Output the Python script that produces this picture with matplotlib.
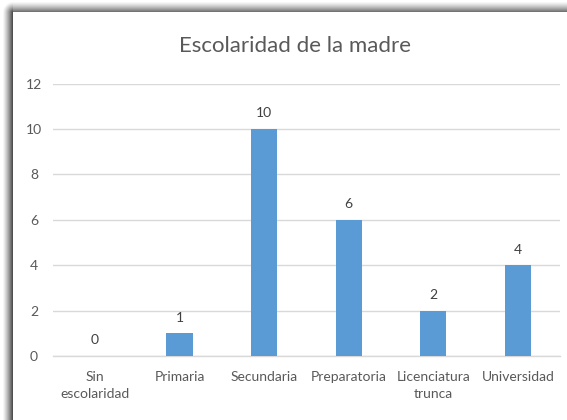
import numpy as np
import matplotlib
matplotlib.use("Agg")
import matplotlib.pyplot as plt

categories = ["Sin\nescolaridad", "Primaria", "Secundaria", "Preparatoria",
              "Licenciatura\ntrunca", "Universidad"]
values = [0, 1, 10, 6, 2, 4]
yticks = [0, 2, 4, 6, 8, 10, 12]
title = "Escolaridad de la madre"

plt.rcParams['font.family'] = ['Lato', 'DejaVu Sans']

W, H = 567, 420
fig = plt.figure(figsize=(W / 100, H / 100), dpi=100)

# shadow / frame background
bg = fig.add_axes([0, 0, 1, 1], zorder=0)
yy, xx = np.mgrid[0:H, 0:W]
dx = np.clip(13 - xx, 0, None)
dy = np.clip(12 - yy, 0, None)
dist = np.sqrt(dx ** 2 + dy ** 2)
inside = (dx == 0) & (dy == 0)
strength = np.where(dx > 0, 0.78, 0.62)
dark = strength * np.clip(1 - dist / 11.0, 0, 1) ** 1.3
shade = np.where(inside, 1.0, 1 - dark)
img = np.dstack([shade, shade, shade])
bg.imshow(img, extent=[0, W, H, 0], aspect='auto', interpolation='bilinear')
bg.set_xlim(0, W)
bg.set_ylim(H, 0)
bg.axis('off')

ax = fig.add_axes([0.093, 0.152, 0.895, 0.649], zorder=1)
ax.patch.set_alpha(0)
x = np.arange(len(categories))
ax.bar(x, values, width=0.31, color='#5B9BD5', zorder=3)
ax.set_xlim(-0.5, len(categories) - 0.5)
ax.set_ylim(0, 12)
ax.set_yticks(yticks)
ax.set_yticklabels([str(t) for t in yticks])
ax.set_xticks(x)
ax.set_xticklabels(categories, linespacing=1.45)
ax.grid(axis='y', color='#D9D9D9', linewidth=1, zorder=0)
for s in ['top', 'right', 'left']:
    ax.spines[s].set_visible(False)
ax.spines['bottom'].set_color('#D9D9D9')
ax.spines['bottom'].set_linewidth(1)
ax.tick_params(axis='both', length=0, colors='#595959', labelsize=10)
ax.tick_params(axis='y', pad=13.5)
ax.tick_params(axis='x', pad=11)
for t in ax.get_yticklabels():
    t.set_horizontalalignment('center')

for xi, v in zip(x, values):
    ax.annotate(str(v), (xi, v), xytext=(0, 7), textcoords='offset points',
                ha='center', va='bottom', fontsize=10, color='#404040')

fig.text(0.52, 0.89, title, ha='center', va='center', fontsize=16, color='#595959')

fig.savefig("out.png", dpi=100)
